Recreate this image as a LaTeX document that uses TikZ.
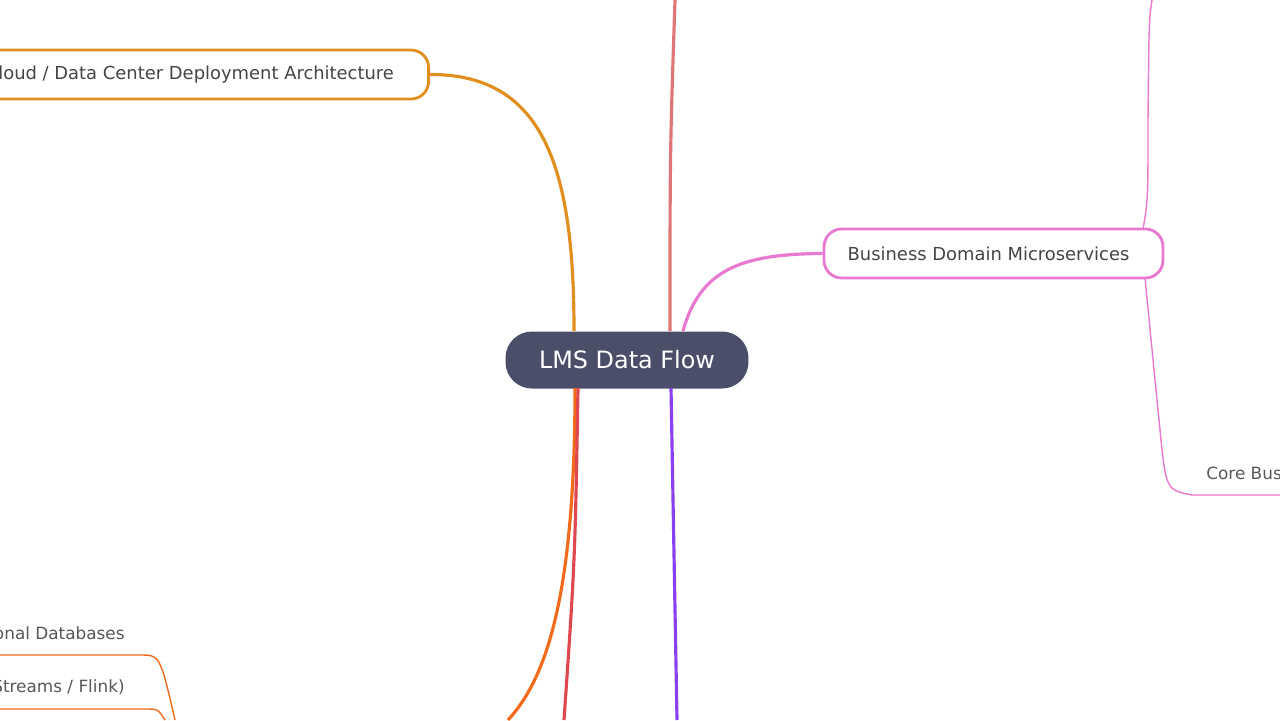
\documentclass[tikz,border=0pt]{standalone}
\usepackage{fontspec}
\setmainfont{DejaVu Sans}
\usetikzlibrary{positioning}
\definecolor{rootC}{HTML}{4A4E69}
\definecolor{orangeC}{HTML}{E08E1E}
\definecolor{pinkC}{HTML}{E878D0}
\definecolor{roseC}{HTML}{E07575}
\definecolor{purpleC}{HTML}{8A3FF0}
\definecolor{flameC}{HTML}{F26B1D}
\definecolor{crimsonC}{HTML}{E04850}
\definecolor{textC}{HTML}{444444}
\tikzset{
  branch/.style={line width=1.8pt},
  twig/.style={line width=0.8pt},
  topic/.style={draw, line width=1.6pt, rounded corners=10pt, minimum height=0.98cm, text=textC, font=\fontsize{10.2}{12}\selectfont},
  leaf/.style={text=textC!90, font=\fontsize{9.6}{11}\selectfont, anchor=west, inner sep=0pt}
}
\begin{document}
\begin{tikzpicture}[x=0.02cm, y=-0.02cm]
  \useasboundingbox (0,0) rectangle (1280,720);
  \clip (0,0) rectangle (1280,720);
  % root
  \node[fill=rootC, text=white, rounded corners=15pt, minimum width=4.86cm, minimum height=1.14cm,
        font=\fontsize{13.6}{16}\selectfont] (root) at (627,360) {LMS Data Flow};
  % main topics
  \node[topic, orangeC, text=textC, minimum width=9.2cm, anchor=east] (cloud) at (430,74.5)
       {\hspace*{0.2cm}Cloud / Data Center Deployment Architecture\hspace*{0.55cm}};
  \node[topic, pinkC, text=textC, minimum width=6.78cm] (biz) at (993.5,253.5)
       {Business Domain Microservices\hspace*{0.2cm}};
  % branches
  \draw[branch, orangeC] (cloud.east) .. controls (545,74) and (574,170) .. (574,331);
  \draw[branch, pinkC] (683,331) .. controls (700,270) and (740,254) .. (biz.west);
  \draw[branch, roseC] (670,331) .. controls (670,150) .. (675,0);
  \draw[branch, purpleC] (671,388) -- (677,720);
  \draw[branch, flameC] (575,388) .. controls (575,600) and (545,680) .. (508,720);
  \draw[branch, crimsonC] (578,388) .. controls (575,560) .. (564,720);
  % pink twigs
  \draw[twig, pinkC] (1143,229) .. controls (1148,200) .. (1148,120) .. controls (1149,20) .. (1152,0);
  \node[leaf] (core) at (1206,473) {Core Bus};
  \draw[twig, pinkC] (1145,278) .. controls (1155,380) .. (1160,430) .. controls (1166,490) .. (1192,495) -- (1280,495);
  % bottom-left twigs
  \node[leaf, anchor=east] (db) at (125,633) {onal Databases};
  \draw[twig, flameC] (0,655) -- (140,655) .. controls (160,655) .. (175,720);
  \node[leaf, anchor=east] (st) at (125,687) {Streams / Flink)};
  \draw[twig, flameC] (0,709) -- (145,709) .. controls (158,709) .. (165,720);
\end{tikzpicture}
\end{document}
